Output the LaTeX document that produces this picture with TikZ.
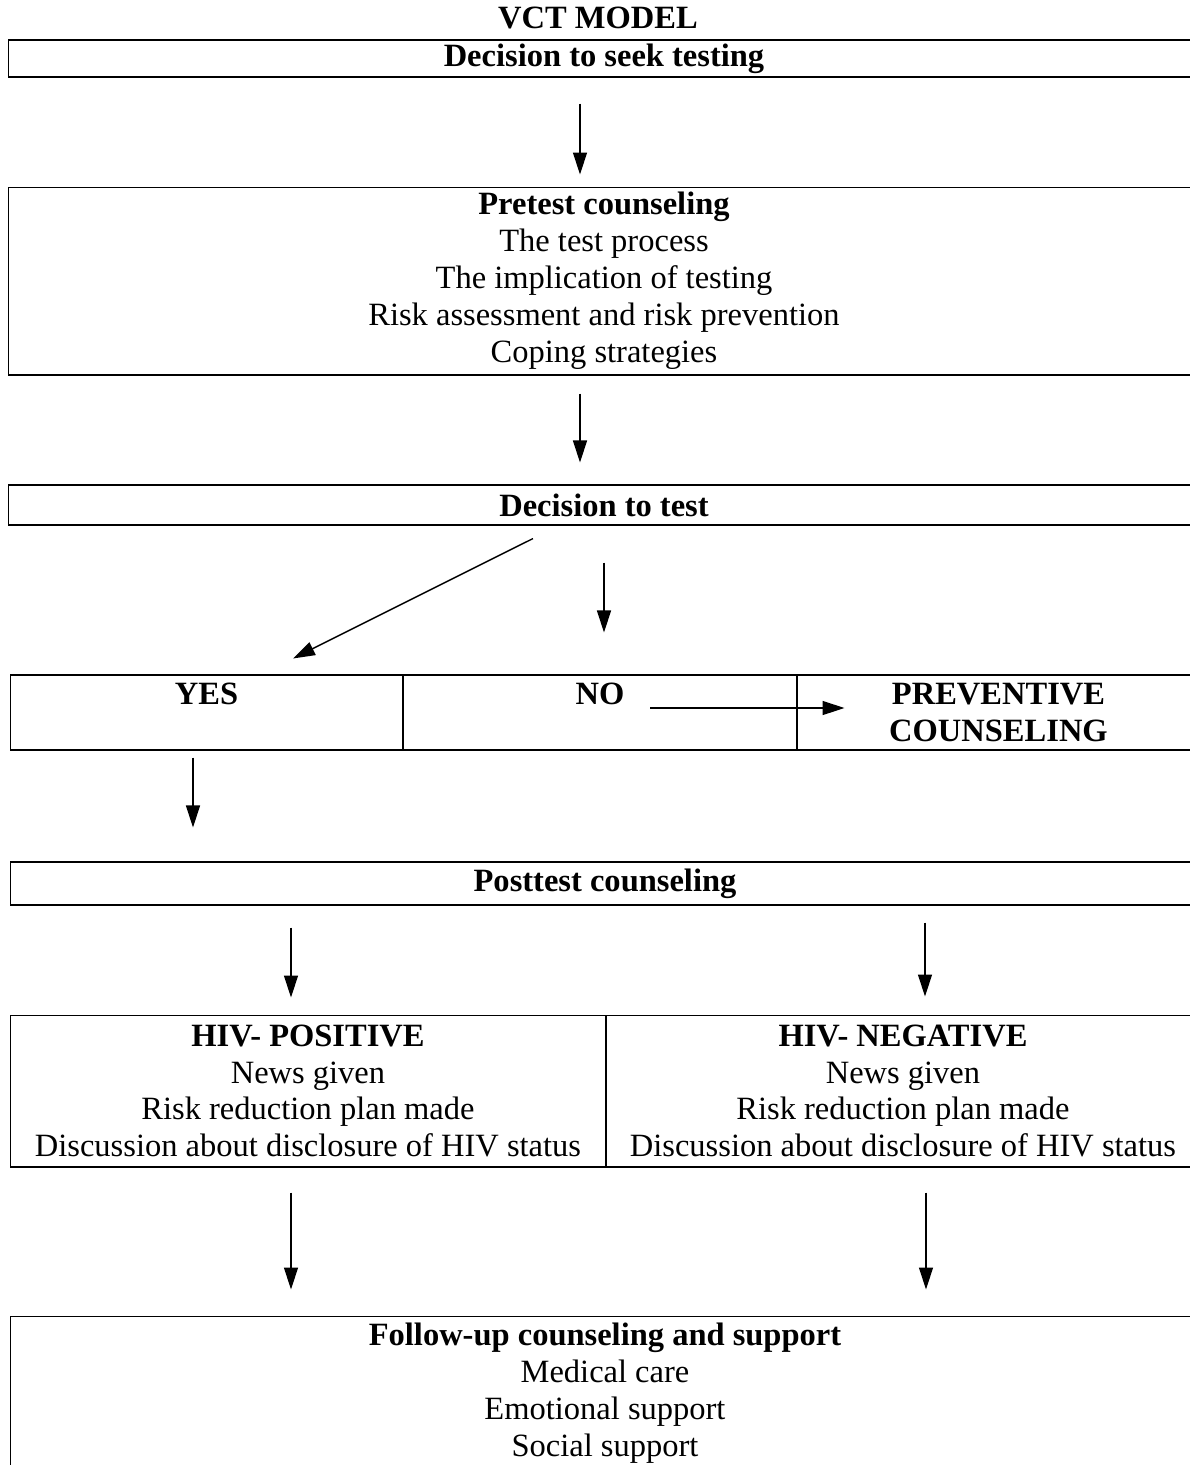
\documentclass[tikz,border=0pt]{standalone}
\usepackage{fontspec}
\setmainfont{Liberation Serif}
\usetikzlibrary{arrows.meta, positioning, calc}

\begin{document}
\begin{tikzpicture}[
    x=0.02cm, y=-0.02cm,
    every node/.style={font=\fontsize{18.5}{21}\selectfont},
    box/.style={rectangle,draw,line width=0.6pt,align=center,inner sep=0pt,minimum width=23.84cm},
    cell/.style={rectangle,draw,line width=0.6pt,align=center,inner sep=0pt,minimum height=1.5cm},
    arr/.style={-{Triangle[length=4.4mm,width=2.8mm]},line width=0.8pt}
  ]
    \clip (0,0) rectangle (1190,1465);

    % Title
    \node[font=\fontsize{18.5}{21}\selectfont\bfseries] (title) at (598,18) {VCT MODEL};

    % Main boxes
    \node[box,minimum height=0.74cm] (seek) at (604,58.5) {\textbf{Decision to seek testing}};
    \node[box,minimum height=3.76cm] (pretest) at (604,281) {\textbf{Pretest counseling}\\The test process\\The implication of testing\\Risk assessment and risk prevention\\Coping strategies};
    \node[box,minimum height=0.8cm] (dtest) at (604,505) {\textbf{Decision to test}};

    % Answer row
    \node[cell,minimum width=7.86cm] (yes) at (206.5,712.5) {\textbf{YES}\\\mbox{}};
    \node[cell,minimum width=7.88cm] (no) at (600,712.5) {\textbf{NO}\\\mbox{}};
    \node[cell,minimum width=8.06cm] (prev) at (998.5,712.5) {\textbf{PREVENTIVE}\\\textbf{COUNSELING}};

    % Posttest
    \node[box,minimum width=23.8cm,minimum height=0.86cm] (post) at (605,883.5) {\textbf{Posttest counseling}};

    % Results
    \node[cell,minimum width=11.92cm,minimum height=3.04cm] (pos) at (308,1091) {\textbf{HIV- POSITIVE}\\News given\\Risk reduction plan made\\Discussion about disclosure of HIV status};
    \node[cell,minimum width=11.88cm,minimum height=3.04cm] (neg) at (903,1091) {\textbf{HIV- NEGATIVE}\\News given\\Risk reduction plan made\\Discussion about disclosure of HIV status};

    % Follow-up
    \node[box,minimum width=23.8cm,minimum height=3.08cm] (follow) at (605,1393) {\textbf{Follow-up counseling and support}\\Medical care\\Emotional support\\Social support};

    % Connections
    \draw[arr] ($(seek.south)+(-24,26)$) -- ($(pretest.north)+(-24,-12)$);
    \draw[arr] ($(pretest.south)+(-24,18)$) -- ($(dtest.north)+(-24,-22)$);
    \draw[arr] ($(dtest.south)+(-71,13)$) -- ($(yes.north)+(86.5,-16)$);
    \draw[arr] ($(dtest.south)+(0,37)$) -- ($(no.north)+(4,-42)$);
    \draw[arr] ($(no.east)+(-147,-4.5)$) -- ($(prev.west)+(48,-4.5)$);
    \draw[arr] ($(yes.south)+(-13.5,7)$) -- ($(post.north)+(-412,-34)$);

    \draw[arr] ($(post.south)+(-314,22)$) -- ($(pos.north)+(-17,-17)$);
    \draw[arr] ($(post.south)+(320,17)$) -- ($(neg.north)+(22,-18)$);

    \draw[arr] ($(pos.south)+(-17,25)$) -- ($(follow.north)+(-314,-26)$);
    \draw[arr] ($(neg.south)+(23,25)$) -- ($(follow.north)+(321,-26)$);
  \end{tikzpicture}
\end{document}
